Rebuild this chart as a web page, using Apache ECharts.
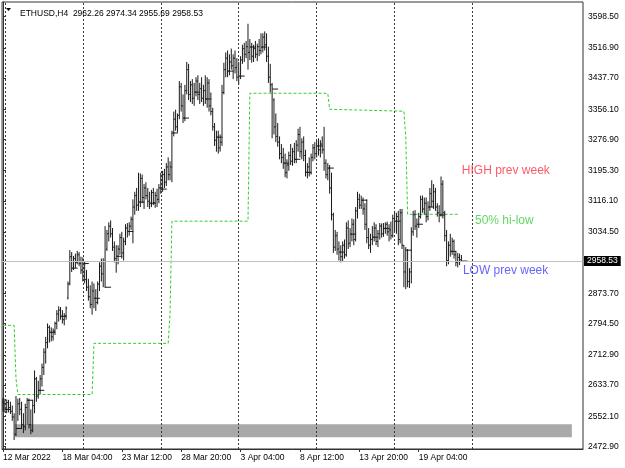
<!DOCTYPE html>
<html>
<head>
<meta charset="utf-8">
<script src="https://cdn.jsdelivr.net/npm/echarts@6/dist/echarts.min.js"></script>
<style>
  html, body { margin: 0; padding: 0; background: #fff; }
  #chart { width: 625px; height: 468px; }
</style>
</head>
<body>
<div id="chart"></div>
<script>
// H4 bars, [open, high, low, close]
const bars = [
  [2590,2600,2565,2585],[2585,2598,2562,2570],[2570,2596,2560,2588],[2588,2595,2562,2575],[2575,2590,2558,2565],[2565,2580,2540,2550],
  [2550,2560,2490,2505],[2505,2605,2500,2520],[2520,2598,2540,2585],[2585,2600,2555,2570],[2570,2590,2520,2530],[2530,2560,2508,2525],
  [2525,2585,2515,2575],[2575,2600,2530,2594],[2594,2598,2520,2530],[2530,2570,2505,2515],[2515,2595,2510,2580],[2580,2672,2560,2650],
  [2650,2655,2590,2605],[2605,2645,2598,2620],[2620,2660,2610,2650],[2650,2690,2630,2680],[2680,2730,2660,2720],[2720,2760,2690,2745],
  [2745,2795,2730,2785],[2785,2790,2745,2772],[2772,2785,2748,2760],[2760,2782,2750,2775],[2775,2800,2765,2795],[2795,2830,2780,2820],
  [2820,2840,2800,2830],[2830,2838,2805,2814],[2814,2830,2795,2805],[2805,2822,2790,2815],[2815,2840,2805,2835],[2862,2905,2858,2898],
  [2900,2987,2895,2970],[2970,2982,2930,2940],[2940,2972,2935,2965],[2965,2978,2940,2955],[2955,2985,2950,2975],[2975,2982,2945,2952],
  [2952,2970,2925,2935],[2935,2968,2905,2952],[2952,2958,2900,2910],[2910,2935,2880,2890],[2890,2912,2855,2865],[2865,2895,2835,2845],
  [2845,2905,2818,2880],[2880,2900,2835,2861],[2861,2885,2828,2850],[2850,2905,2845,2898],[2898,2955,2880,2945],[2945,2965,2905,2925],
  [2925,2966,2890,2958],[2958,3050,2888,2890],[2990,3040,2985,3030],[3030,3060,3010,3050],[3050,3065,3020,3030],[3030,3045,2985,2995],
  [2995,3010,2955,2965],[2965,3000,2928,2971],[2971,3000,2950,2990],[2990,3030,2975,3020],[3020,3035,2965,2980],[2980,3020,2960,3010],
  [3010,3055,3000,3045],[3045,3058,3020,3036],[3036,3060,3025,3050],[3050,3075,3040,3068],[3068,3120,3005,3100],[3100,3140,3080,3130],
  [3130,3150,3090,3105],[3105,3190,3090,3113],[3113,3188,3100,3175],[3175,3185,3110,3125],[3125,3160,3095,3150],[3150,3165,3120,3130],
  [3130,3150,3100,3115],[3115,3140,3095,3110],[3110,3145,3100,3138],[3138,3150,3105,3112],[3112,3140,3098,3130],[3130,3148,3100,3120],
  [3120,3160,3110,3150],[3150,3190,3135,3147],[3147,3195,3140,3185],[3185,3200,3150,3165],[3165,3215,3155,3205],[3205,3230,3170,3185],
  [3185,3220,3170,3205],[3205,3300,3165,3294],[3294,3350,3285,3330],[3330,3355,3300,3310],[3310,3345,3295,3340],[3340,3430,3330,3415],
  [3415,3425,3350,3365],[3365,3395,3320,3333],[3333,3420,3325,3405],[3405,3480,3395,3460],[3460,3475,3380,3395],[3395,3430,3375,3420],
  [3420,3435,3370,3385],[3385,3425,3365,3401],[3401,3440,3390,3430],[3430,3445,3380,3395],[3395,3425,3370,3410],[3410,3440,3375,3385],
  [3385,3420,3365,3405],[3405,3445,3370,3383],[3383,3440,3360,3425],[3425,3435,3350,3365],[3365,3400,3340,3350],[3350,3360,3300,3310],
  [3310,3320,3260,3275],[3275,3300,3245,3283],[3283,3300,3240,3255],[3255,3290,3245,3270],[3270,3420,3260,3400],[3400,3478,3395,3460],
  [3460,3505,3440,3490],[3490,3510,3440,3456],[3456,3500,3445,3480],[3480,3515,3460,3470],[3470,3500,3435,3490],[3490,3510,3450,3465],
  [3465,3490,3430,3440],[3440,3480,3420,3443],[3443,3495,3435,3485],[3485,3525,3475,3515],[3515,3530,3480,3500],[3500,3535,3490,3520],
  [3520,3580,3460,3505],[3505,3540,3485,3519],[3519,3530,3478,3495],[3495,3525,3480,3515],[3515,3535,3490,3500],[3500,3528,3482,3520],
  [3520,3540,3495,3510],[3510,3555,3500,3519],[3519,3555,3505,3545],[3545,3560,3510,3525],[3525,3555,3480,3495],[3495,3520,3425,3440],
  [3440,3475,3400,3420],[3420,3425,3280,3409],[3380,3385,3290,3310],[3310,3345,3270,3285],[3285,3320,3258,3270],[3270,3285,3225,3240],
  [3240,3265,3215,3230],[3230,3255,3200,3215],[3215,3240,3178,3190],[3190,3225,3175,3210],[3210,3245,3195,3235],[3235,3265,3210,3220],
  [3220,3255,3208,3245],[3245,3268,3215,3225],[3225,3275,3215,3262],[3262,3305,3245,3290],[3290,3310,3230,3245],[3245,3280,3225,3270],
  [3270,3285,3220,3235],[3235,3250,3180,3191],[3191,3215,3175,3205],[3205,3230,3180,3190],[3190,3240,3185,3230],[3230,3265,3220,3255],
  [3255,3270,3225,3240],[3240,3275,3230,3260],[3260,3280,3235,3250],[3250,3275,3230,3265],[3265,3285,3240,3250],[3250,3310,3195,3215],
  [3215,3225,3175,3185],[3185,3215,3170,3202],[3202,3210,3135,3150],[3150,3190,3065,3080],[3080,3085,2980,2995],[2995,3040,2985,3025],
  [3025,3035,2975,2990],[2990,3010,2960,2982],[2982,3000,2955,2970],[2970,3010,2958,3000],[3000,3015,2965,2975],[2975,3060,2970,3045],
  [3045,3065,2990,3005],[3005,3045,2995,3029],[3029,3070,3010,3055],[3055,3068,3000,3015],[3015,3100,3010,3090],[3090,3140,3070,3120],
  [3120,3135,3095,3105],[3105,3130,3095,3118],[3118,3125,3080,3095],[3095,3110,3040,3055],[3055,3120,3005,3020],[3020,3045,2990,3000],
  [3000,3030,2980,3015],[3015,3050,3000,3021],[3021,3060,3010,3045],[3045,3055,3000,3010],[3010,3040,2995,3030],[3030,3058,3015,3050],
  [3050,3057,3020,3030],[3030,3058,3022,3044],[3044,3060,3030,3055],[3055,3062,3025,3035],[3035,3055,3010,3040],[3040,3062,3015,3025],
  [3025,3080,3020,3070],[3070,3090,3035,3063],[3063,3085,3030,3075],[3075,3090,3000,3015],[3015,3095,3005,3085],[3085,3095,2990,3000],
  [3000,3000,2890,2930],[2930,2995,2885,2987],[2987,2990,2890,2905],[2905,2940,2888,2930],[2930,3047,2900,3035],[3035,3090,3025,3080],
  [3080,3092,3040,3050],[3050,3070,3020,3055],[3055,3085,3045,3075],[3075,3130,3070,3120],[3120,3130,3085,3095],[3095,3125,3080,3110],
  [3110,3125,3060,3075],[3075,3115,3065,3100],[3100,3150,3090,3135],[3135,3170,3100,3115],[3115,3160,3095,3140],[3140,3150,3090,3100],
  [3100,3110,3075,3085],[3085,3105,3060,3079],[3079,3180,3075,3160],[3160,3170,3070,3085],[3085,3090,3010,3025],[3025,3040,2945,2960],
  [2960,3010,2950,3000],[3000,3030,2970,2984],[2984,3020,2975,3010],[3010,3015,2965,2975],[2975,2985,2945,2955],[2955,2980,2942,2968],
  [2968,2978,2948,2962],[2962.26,2974.34,2955.69,2958.53]
];

// 50% hi-low of previous week, points where the level changes [bar, price]
const midLevel = [
  [0,2790],[6,2790],[7,2651],[8,2609],[48,2609],[49,2743],[89,2743],[90,2821],[91,3063],
  [132,3063],[133,3398],[175,3398],[176,3356],[177,3351],[216,3351],[217,3283],[218,3081],[246,3081]
];

const timeTickBars = [0, 32, 64, 96, 128, 160, 192, 224];
const timeTickText = ['12 Mar 2022', '18 Mar 04:00', '23 Mar 12:00', '28 Mar 20:00',
                      '3 Apr 04:00', '8 Apr 12:00', '13 Apr 20:00', '19 Apr 04:00'];
const priceTicks = [2472.9, 2552.1, 2633.7, 2712.9, 2794.5, 2873.7, 3034.5, 3116.1,
                    3195.3, 3276.9, 3356.1, 3437.7, 3516.9, 3598.5];
const weekSeparators = [1, 43, 85, 127, 169, 211, 253];
const zoneBars = [6.5, 306.5];
const zonePrices = [2497, 2531];
const bid = 2958.53;
const notes = [
  { name: 'HIGH prev week', bar: 247.2, price: 3194, color: '#ff3040' },
  { name: '50% hi-low',     bar: 254.3, price: 3063, color: '#3ccc3c' },
  { name: 'LOW prev week',  bar: 247.8, price: 2932, color: '#3c3cff' }
];

const FONT = "'Liberation Sans', Arial, sans-serif";
const last = bars[bars.length - 1];

const chart = echarts.init(document.getElementById('chart'));

function renderBar(params, api) {
  const i = api.value(0);
  const hi = api.coord([i, api.value(2)]);
  const lo = api.coord([i, api.value(3)]);
  const op = api.coord([i, api.value(1)]);
  const cl = api.coord([i, api.value(4)]);
  const x = hi[0];
  const tick = i % 6 === 1 ? 6 : 1;
  const st = { stroke: '#1a1a1a', lineWidth: 1 };
  return {
    type: 'group',
    children: [
      { type: 'line', shape: { x1: x, y1: hi[1], x2: x, y2: lo[1] }, style: st },
      { type: 'line', shape: { x1: x - 1, y1: op[1], x2: x, y2: op[1] }, style: st },
      { type: 'line', shape: { x1: x, y1: cl[1], x2: x + tick, y2: cl[1] }, style: st }
    ]
  };
}

chart.setOption({
  animation: false,
  backgroundColor: '#fff',
  textStyle: { fontFamily: FONT },
  title: {
    text: 'ETHUSD,H4  ' + last.map(v => v.toFixed(2)).join(' '),
    left: 15, top: 4,
    textStyle: { fontSize: 8.5, fontWeight: 'normal', color: '#000', fontFamily: FONT }
  },
  graphic: [{
    type: 'polygon', shape: { points: [[6, 8], [11, 8], [8.5, 11]] },
    style: { fill: '#000' }
  }],
  grid: { left: 2, right: 42, top: 2, bottom: 19, show: true, borderColor: '#333', borderWidth: 1, backgroundColor: '#fff' },
  xAxis: {
    type: 'value', min: -0.5, max: 312.5,
    axisLine: { show: true, onZero: false, lineStyle: { color: '#333' } },
    axisTick: { show: true, length: 3, customValues: timeTickBars, lineStyle: { color: '#333' } },
    axisLabel: {
      customValues: timeTickBars, align: 'left', margin: 4,
      fontSize: 8.5, color: '#000', fontFamily: FONT,
      formatter: v => timeTickText[timeTickBars.indexOf(v)] || ''
    },
    splitLine: { show: false }
  },
  yAxis: {
    type: 'value', position: 'right', min: 2466.3, max: 3637.0, scale: true,
    axisLine: { show: true, lineStyle: { color: '#333' } },
    axisTick: { show: true, length: 3, customValues: priceTicks, lineStyle: { color: '#333' } },
    axisLabel: {
      customValues: priceTicks, margin: 5, fontSize: 8.5, color: '#000', fontFamily: FONT,
      formatter: v => v.toFixed(2)
    },
    splitLine: { show: false }
  },
  series: [
    {
      type: 'line', data: [], z: 1, silent: true,
      markArea: {
        silent: true,
        itemStyle: { color: '#a9a9a9', opacity: 1 },
        data: [[{ xAxis: zoneBars[0], yAxis: zonePrices[0] }, { xAxis: zoneBars[1], yAxis: zonePrices[1] }]]
      }
    },
    {
      type: 'line', data: [], z: 2, silent: true,
      markLine: {
        silent: true, symbol: 'none', animation: false,
        lineStyle: { color: '#3a3a3a', type: [2, 2], width: 1 },
        label: { show: false },
        data: weekSeparators.map(b => ({ xAxis: b }))
      }
    },
    {
      type: 'line', data: [], z: 2, silent: true,
      markLine: {
        silent: true, symbol: 'none', animation: false,
        lineStyle: { color: '#c0c0c0', type: 'solid', width: 1 },
        label: {
          show: true, position: 'end', distance: 1,
          formatter: bid.toFixed(2),
          backgroundColor: '#000', color: '#fff', fontSize: 8.5, fontFamily: FONT,
          padding: [1, 3, 0, 3]
        },
        data: [{ yAxis: bid }]
      }
    },
    {
      type: 'line', data: midLevel, z: 3, symbol: 'none', silent: true,
      lineStyle: { color: '#32cd32', type: [3, 2], width: 1 }
    },
    {
      type: 'custom', z: 4, silent: true,
      renderItem: renderBar,
      encode: { x: 0, y: [2, 3] },
      data: bars.map((b, i) => [i, b[0], b[1], b[2], b[3]])
    },
    {
      type: 'scatter', z: 5, silent: true, symbolSize: 0,
      data: notes.map(n => ({
        name: n.name, value: [n.bar, n.price],
        label: { show: true, position: 'right', distance: 0, formatter: n.name,
                 color: n.color, fontSize: 12, fontFamily: FONT }
      }))
    }
  ]
});
</script>
</body>
</html>
